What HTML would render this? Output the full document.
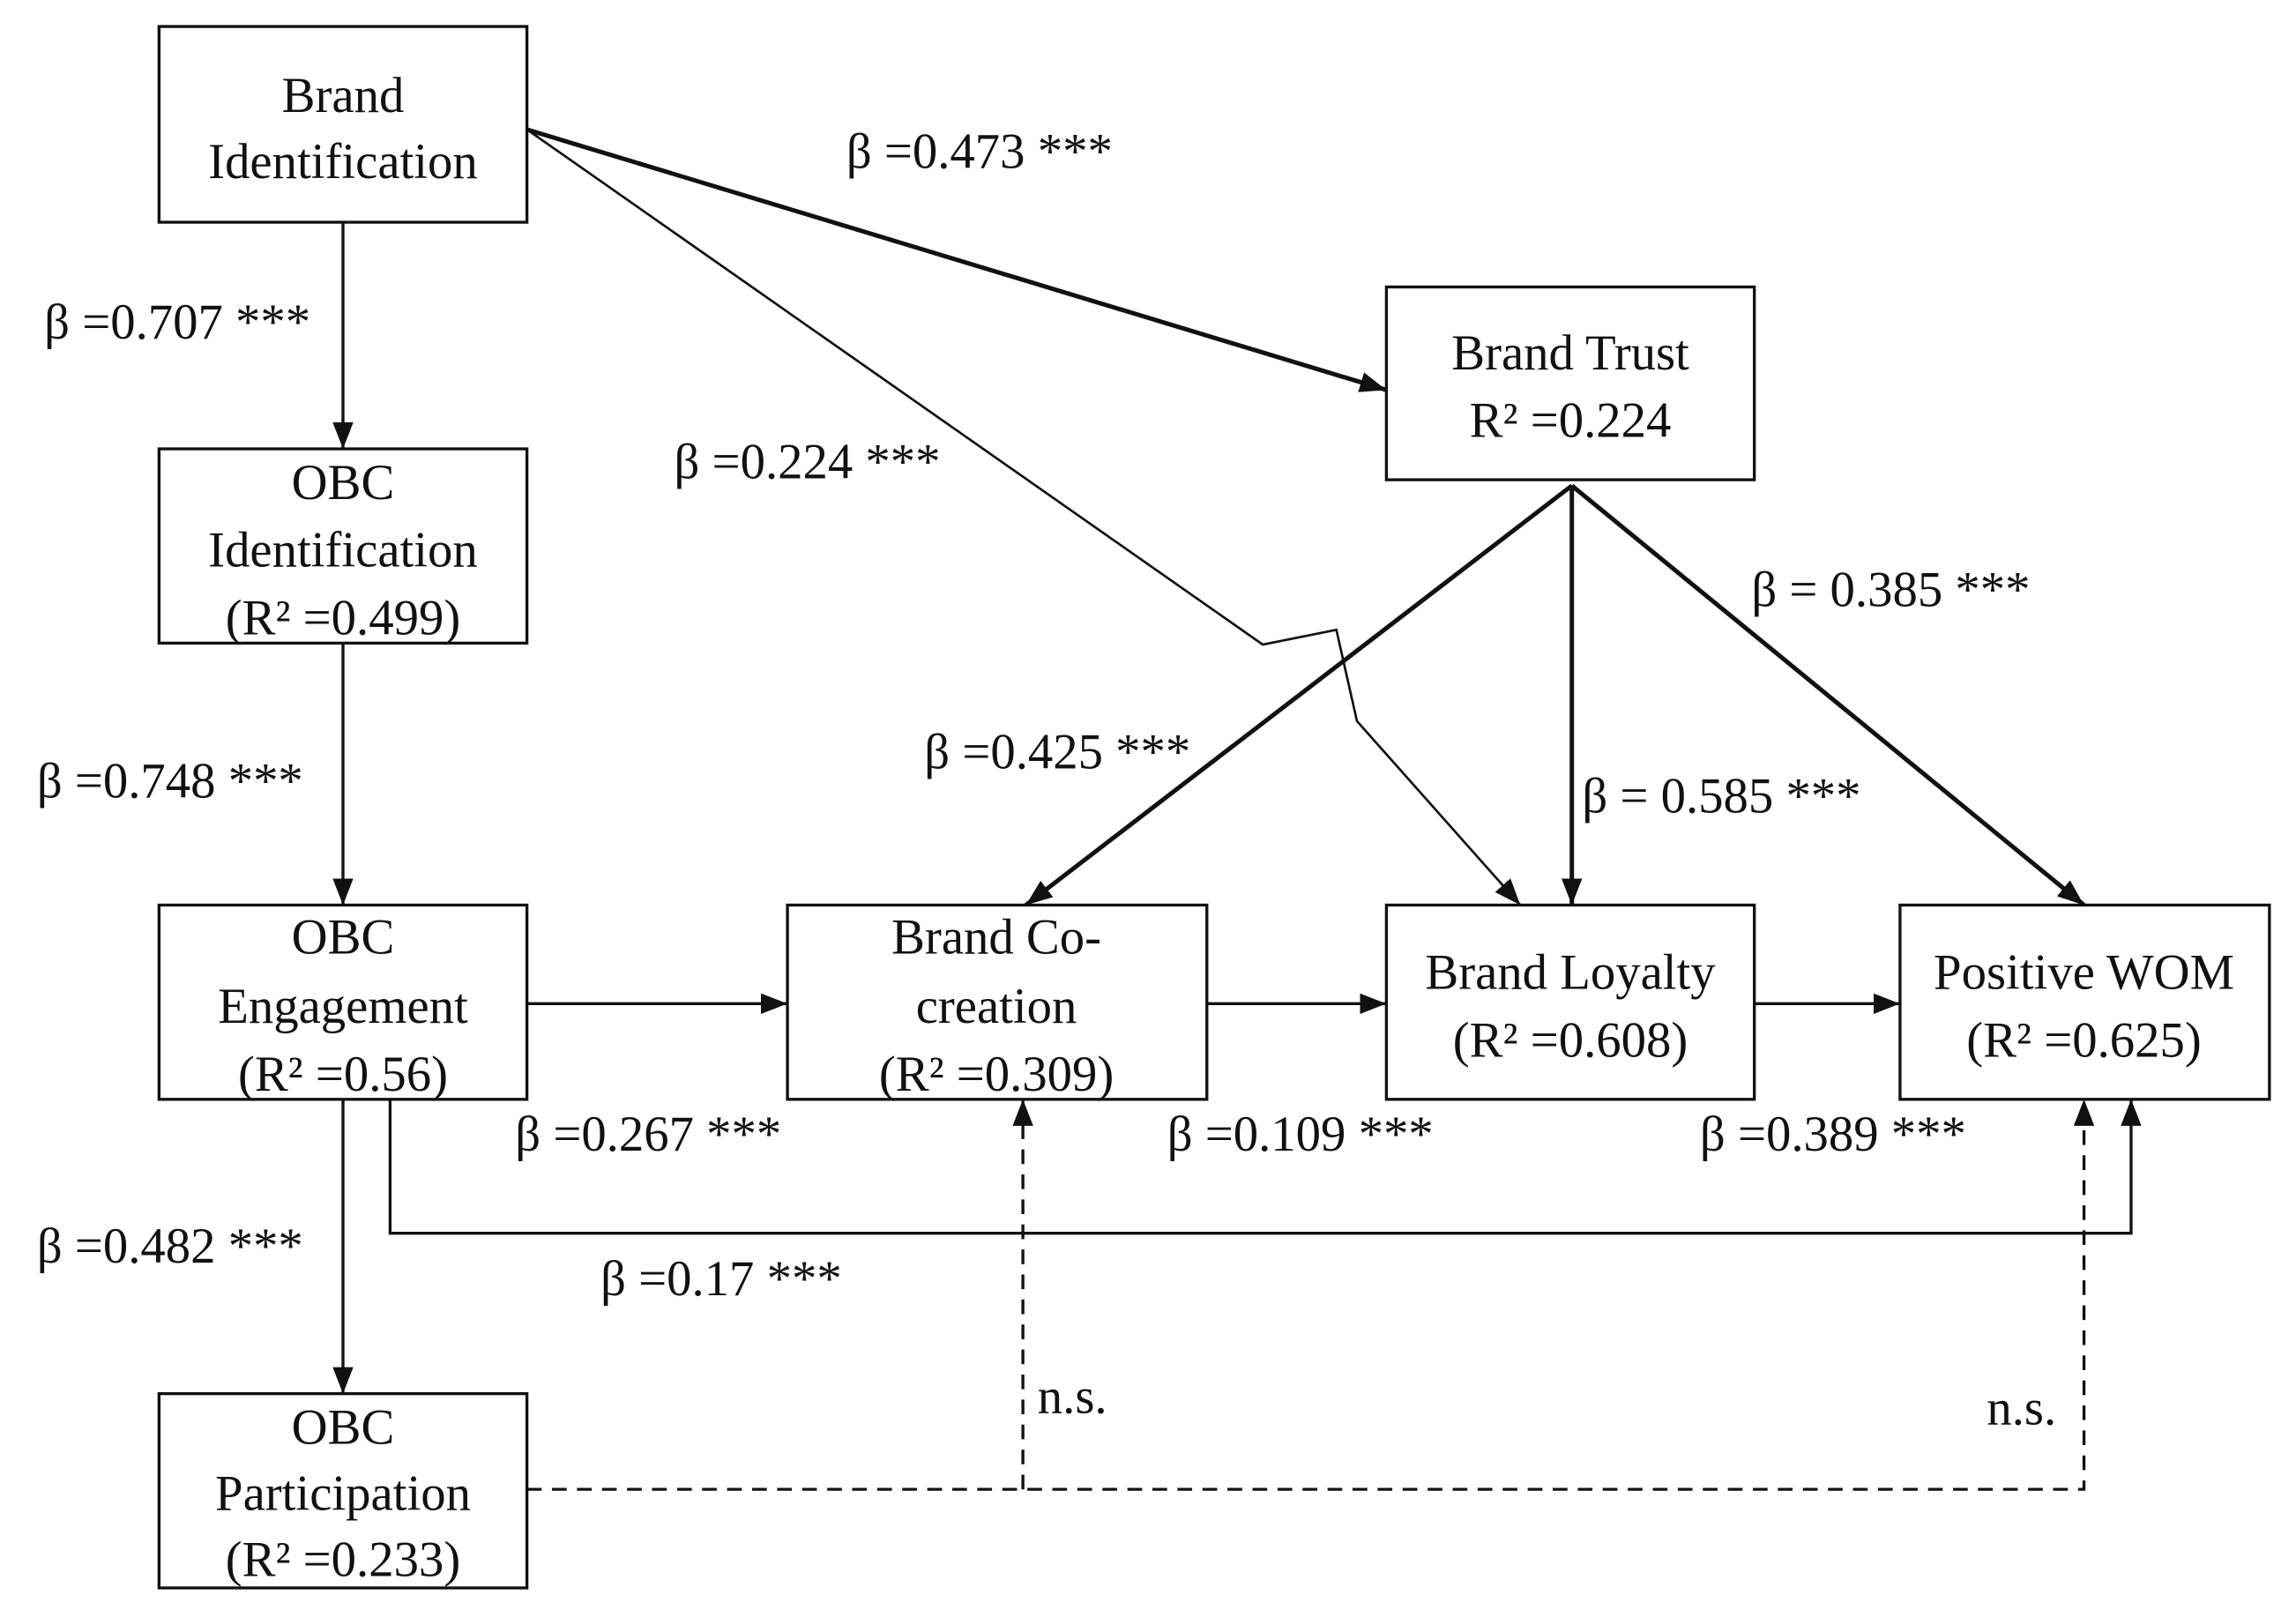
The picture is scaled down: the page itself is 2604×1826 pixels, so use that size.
<!DOCTYPE html>
<html><head><meta charset="utf-8"><style>html,body{margin:0;padding:0;background:#fff}svg{display:block}</style></head>
<body>
<svg width="2604" height="1826" viewBox="0 0 1560 1094" xmlns="http://www.w3.org/2000/svg" font-family="Liberation Serif, serif" font-size="34" fill="#111">
<defs>
<marker id="a" markerWidth="10" markerHeight="10" refX="9" refY="5" orient="auto" markerUnits="userSpaceOnUse" viewBox="0 0 10 10"><path d="M0,0 L10,5 L0,10 z" fill="#111" transform="scale(1)"/></marker>
<marker id="b" markerWidth="18" markerHeight="14" refX="18" refY="7" orient="auto" markerUnits="userSpaceOnUse"><path d="M0,0 L18,7 L0,14 z" fill="#111"/></marker>
</defs>
<g fill="none" stroke="#111" stroke-width="2">
<rect x="108" y="18" width="250" height="133"/>
<rect x="108" y="305" width="250" height="132"/>
<rect x="108" y="615" width="250" height="132"/>
<rect x="108" y="947" width="250" height="132"/>
<rect x="942" y="195" width="250" height="131"/>
<rect x="535" y="615" width="285" height="132"/>
<rect x="942" y="615" width="250" height="132"/>
<rect x="1291" y="615" width="251" height="132"/>
</g>
<g fill="none" stroke="#111" stroke-width="2" marker-end="url(#b)">
<line x1="233" y1="151" x2="233" y2="305"/>
<line x1="233" y1="437" x2="233" y2="615"/>
<line x1="233" y1="747" x2="233" y2="947"/>
<line x1="358" y1="88" x2="942" y2="265" stroke-width="3"/>
<polyline points="358,88 858,438 908,428 922,490 1033,615" stroke-width="1.6"/>
<line x1="1068" y1="330" x2="697" y2="615" stroke-width="3"/>
<line x1="1068" y1="330" x2="1068" y2="615" stroke-width="3"/>
<line x1="1068" y1="330" x2="1416" y2="615" stroke-width="3"/>
<line x1="358" y1="682" x2="535" y2="682"/>
<line x1="820" y1="682" x2="942" y2="682"/>
<line x1="1192" y1="682" x2="1291" y2="682"/>
<polyline points="265,747 265,838 1448,838 1448,747"/>
<polyline points="358,1012 1416,1012 1416,747" stroke-dasharray="10,7"/>
<line x1="695" y1="1012" x2="695" y2="747" stroke-dasharray="10,7"/>
</g>
<g text-anchor="middle">
<text x="233" y="76">Brand</text>
<text x="233" y="121">Identification</text>
<text x="233" y="339">OBC</text>
<text x="233" y="385">Identification</text>
<text x="233" y="431">(R² =0.499)</text>
<text x="233" y="648">OBC</text>
<text x="233" y="695">Engagement</text>
<text x="233" y="741">(R² =0.56)</text>
<text x="233" y="981">OBC</text>
<text x="233" y="1026">Participation</text>
<text x="233" y="1071">(R² =0.233)</text>
<text x="1067" y="251">Brand Trust</text>
<text x="1067" y="297">R² =0.224</text>
<text x="677" y="648">Brand Co-</text>
<text x="677" y="695">creation</text>
<text x="677" y="741">(R² =0.309)</text>
<text x="1067" y="672">Brand Loyalty</text>
<text x="1067" y="718">(R² =0.608)</text>
<text x="1416" y="672">Positive WOM</text>
<text x="1416" y="718">(R² =0.625)</text>
</g>
<g>
<text x="575" y="114">β =0.473 ***</text>
<text x="30" y="230">β =0.707 ***</text>
<text x="458" y="325">β =0.224 ***</text>
<text x="1190" y="412">β = 0.385 ***</text>
<text x="628" y="522">β =0.425 ***</text>
<text x="1075" y="552">β = 0.585 ***</text>
<text x="25" y="542">β =0.748 ***</text>
<text x="350" y="782">β =0.267 ***</text>
<text x="793" y="782">β =0.109 ***</text>
<text x="1155" y="782">β =0.389 ***</text>
<text x="25" y="858">β =0.482 ***</text>
<text x="408" y="880">β =0.17 ***</text>
<text x="705" y="960">n.s.</text>
<text x="1350" y="968">n.s.</text>
</g>
</svg>
</body></html>
